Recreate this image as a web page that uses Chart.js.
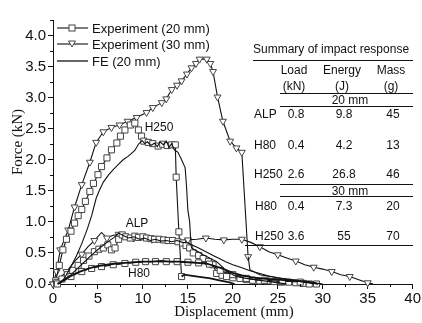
<!DOCTYPE html>
<html>
<head>
<meta charset="utf-8">
<script src="https://cdn.jsdelivr.net/npm/chart.js@4.4.1/dist/chart.umd.min.js"></script>
<style>
  html, body { margin: 0; padding: 0; background: #fff; }
  #wrap { position: relative; width: 422px; height: 323px; overflow: hidden; font-family: "Liberation Sans", Arial, sans-serif; color: #111; }
  #wrap canvas { position: absolute; left: 0; top: 0; }
  .t { position: absolute; font-size: 12px; line-height: 1; white-space: nowrap; }
  .c { transform: translate(-50%, -50%); }
  .l { transform: translate(0, -50%); }
  .rule { position: absolute; height: 0; border-top: 1px solid #111; }
  .leg { position: absolute; left: 57px; height: 14px; display: flex; align-items: center; font-size: 13px; white-space: nowrap; transform: translate(0, -50%); }
  .leg svg { margin-right: 4px; }
  .ttl { position: absolute; font-family: "Liberation Serif", "Times New Roman", serif; font-size: 15px; white-space: nowrap; line-height: 1; }
</style>
</head>
<body>
<div id="wrap">
  <canvas id="chart" width="422" height="323"></canvas>

  <div class="leg" style="top:28px"><svg width="31" height="12"><line x1="0" y1="6" x2="31" y2="6" stroke="#111" stroke-width="1.1"/><rect x="12" y="3" width="6" height="6" fill="#fff" stroke="#444"/></svg>Experiment (20 mm)</div>
  <div class="leg" style="top:44px"><svg width="31" height="12"><line x1="0" y1="6" x2="31" y2="6" stroke="#111" stroke-width="1.1"/><polygon points="11.5,3 18.5,3 15,9" fill="#fff" stroke="#444"/></svg>Experiment (30 mm)</div>
  <div class="leg" style="top:61px"><svg width="31" height="12"><line x1="0" y1="6" x2="31" y2="6" stroke="#111" stroke-width="1.3"/></svg>FE (20 mm)</div>

  <div class="ttl" style="left:17px;top:142px;transform:translate(-50%,-50%) rotate(-90deg)">Force (kN)</div>
  <div class="ttl c" style="left:234px;top:311px">Displacement (mm)</div>

  <div class="t c" style="left:159px;top:127px">H250</div>
  <div class="t c" style="left:137px;top:223px">ALP</div>
  <div class="t c" style="left:139px;top:273px">H80</div>

  <div id="table"></div>
</div>

<script>
// table contents
const tableTitle = 'Summary of impact response';
const tableHeads = [['Load', '(kN)'], ['Energy', '(J)'], ['Mass', '(g)']];
const group20 = '20 mm';
const rows20 = [['ALP', '0.8', '9.8', '45'], ['H80', '0.4', '4.2', '13'], ['H250', '2.6', '26.8', '46']];
const group30 = '30 mm';
const rows30 = [['H80', '0.4', '7.3', '20'], ['H250', '3.6', '55', '70']];

// axis ticks
const xTicks = [0, 5, 10, 15, 20, 25, 30, 35, 40];
const yTicks = [0, 0.5, 1, 1.5, 2, 2.5, 3, 3.5, 4];

// curves, [displacement mm, force kN]
const exp20H250 = [[0.3,0.05],[0.7,0.3],[1.1,0.55],[1.5,0.72],[2.0,0.85],[2.4,0.98],[2.8,1.1],[3.2,1.2],[3.6,1.33],[4.1,1.49],[4.5,1.62],[5.0,1.76],[5.4,1.89],[6.0,2.03],[6.5,2.16],[7.1,2.27],[7.5,2.38],[8.0,2.48],[8.6,2.56],[9.1,2.59],[9.5,2.48],[9.85,2.38],[10.1,2.3],[10.6,2.28],[11.1,2.26],[11.7,2.22],[12.2,2.25],[12.7,2.23],[13.2,2.24],[13.6,2.24],[13.7,1.72],[14.0,0.84],[14.3,0.12]];
const exp20H250Tail = [[14.3,0.12],[14.6,0.15],[15.5,0.13],[16.5,0.11],[17.5,0.09],[18.5,0.06],[19.5,0.03],[20.2,0]];
const exp20ALP = [[0.4,0.02],[1.0,0.08],[1.6,0.15],[2.2,0.22],[2.8,0.3],[3.4,0.38],[4.0,0.45],[4.6,0.52],[5.1,0.56],[5.6,0.58],[6.1,0.63],[6.5,0.55],[6.9,0.58],[7.3,0.72],[7.7,0.79],[8.1,0.76],[8.6,0.74],[9.1,0.77],[9.5,0.75],[10.0,0.76],[10.4,0.74],[10.9,0.73],[11.3,0.72],[11.8,0.72],[12.3,0.71],[12.8,0.7],[13.3,0.7],[13.9,0.68],[14.4,0.66],[14.8,0.62],[15.2,0.58],[15.6,0.5],[16.2,0.46],[16.7,0.41],[17.3,0.36],[17.8,0.31],[18.2,0.17],[18.8,0.14],[19.3,0.12],[20.0,0.1],[20.8,0.09],[21.5,0.07],[22.2,0.06],[23.0,0.05],[23.8,0.05],[24.6,0.04],[25.4,0.03],[26.2,0.03],[27.0,0.02],[27.8,0.01],[28.5,0]];
const exp20H80 = [[0.5,0],[1.3,0.06],[2.0,0.12],[2.6,0.17],[3.2,0.2],[3.7,0.23],[4.3,0.25],[4.8,0.27],[5.4,0.28],[6.0,0.29],[6.7,0.31],[7.4,0.32],[8.0,0.33],[8.6,0.34],[9.2,0.35],[9.7,0.35],[10.3,0.36],[10.8,0.36],[11.4,0.36],[12.0,0.36],[12.6,0.36],[13.2,0.36],[13.8,0.36],[14.4,0.35],[15.0,0.35],[15.6,0.35],[16.2,0.34],[16.8,0.34],[17.4,0.32],[18.0,0.27],[18.6,0.22],[19.3,0.18],[20.0,0.15],[20.8,0.12],[21.5,0.09],[22.5,0.07],[23.5,0.06],[24.5,0.05],[25.5,0.04],[26.5,0.04],[27.5,0.03],[28.5,0.02],[29.3,0]];
const exp30H250 = [[0,0],[0.4,0.2],[0.8,0.55],[1.7,0.87],[2.4,1.24],[3.2,1.6],[4.1,1.96],[4.8,2.28],[5.6,2.45],[6.5,2.52],[7.4,2.56],[8.3,2.62],[9.3,2.68],[10.4,2.76],[11.1,2.84],[12.1,2.92],[12.6,2.98],[13.2,3.13],[13.8,3.2],[14.3,3.27],[14.9,3.38],[15.4,3.48],[15.9,3.55],[16.3,3.62],[17.1,3.62],[17.5,3.55],[17.8,3.42],[18.3,3.01],[18.9,2.62],[19.7,2.3],[20.4,2.19],[21.0,2.12],[21.7,0.44]];
const exp30H250Tail = [[21.7,0.44],[21.9,0.23],[23.0,0.15],[25.0,0.1],[27.0,0.06],[29.0,0.02],[30.0,0]];
const exp30H80 = [[0,0],[0.6,0.08],[1.5,0.2],[2.5,0.38],[3.2,0.48],[3.9,0.6],[4.6,0.7],[5.4,0.83],[6.0,0.74],[6.6,0.78],[7.3,0.8],[8.0,0.76],[9.0,0.74],[10.0,0.73],[11.0,0.72],[12.0,0.72],[13.0,0.71],[14.0,0.7],[15.0,0.71],[16.0,0.72],[17.0,0.74],[18.0,0.72],[19.0,0.71],[20.0,0.72],[21.0,0.72],[22.0,0.67],[23.0,0.6],[24.0,0.52],[25.0,0.47],[26.0,0.42],[27.0,0.37],[28.0,0.31],[29.0,0.27],[30.0,0.24],[31.0,0.2],[32.0,0.15],[33.0,0.12],[34.0,0.07],[35.0,0.02],[35.6,0]];
const feH250 = [[0.7,0],[1.3,0.1],[2.0,0.28],[2.6,0.45],[3.2,0.65],[3.8,0.88],[4.3,1.1],[4.8,1.38],[5.2,1.52],[5.6,1.64],[6.2,1.76],[6.7,1.84],[7.3,1.93],[7.8,2.0],[8.3,2.05],[8.7,2.1],[9.1,2.15],[9.5,2.25],[9.9,2.31],[10.2,2.26],[10.5,2.29],[10.9,2.23],[11.3,2.27],[11.6,2.21],[11.9,2.29],[12.3,2.24],[12.6,2.3],[12.9,2.2],[13.2,2.26],[13.5,2.16],[13.9,2.12],[14.3,2.0],[14.7,1.87],[14.85,1.57],[15.0,1.19],[15.2,1.0],[15.3,0.75],[15.4,0.58],[16.0,0.53],[16.7,0.47],[17.4,0.42],[18.2,0.36],[18.8,0.28],[19.3,0.2],[20.4,0.12],[21.5,0.09],[22.5,0.07],[23.5,0.05],[24.5,0.03],[25.5,0.01],[26.0,0]];
const feALP = [[0.6,0],[1.2,0.06],[2.0,0.15],[2.8,0.26],[3.6,0.37],[4.4,0.48],[5.2,0.58],[6.0,0.67],[6.8,0.75],[7.3,0.82],[7.8,0.78],[8.4,0.74],[9.0,0.76],[9.6,0.72],[10.2,0.74],[10.8,0.7],[11.4,0.72],[12.0,0.69],[12.6,0.7],[13.2,0.68],[13.8,0.7],[14.4,0.67],[15.0,0.66],[15.6,0.62],[16.2,0.58],[17.0,0.52],[17.8,0.46],[18.5,0.41],[19.2,0.36],[20.0,0.31],[21.0,0.26],[22.0,0.21],[23.0,0.17],[24.0,0.13],[25.0,0.1],[26.0,0.07],[27.0,0.05],[28.0,0.03],[29.0,0.01],[29.5,0]];
const feH80 = [[0.5,0],[1.0,0.05],[2.0,0.13],[3.0,0.2],[4.0,0.25],[5.0,0.29],[6.0,0.31],[7.0,0.33],[8.0,0.34],[9.0,0.35],[10.0,0.36],[11.0,0.36],[12.0,0.37],[13.0,0.36],[14.0,0.36],[15.0,0.35],[16.0,0.34],[17.0,0.33],[18.0,0.29],[19.0,0.24],[20.0,0.18],[21.0,0.14],[22.0,0.11],[23.0,0.09],[24.0,0.08],[25.0,0.07],[26.0,0.06],[27.0,0.05],[28.0,0.04],[29.0,0.02],[29.5,0]];

function buildTable() {
  const el = document.getElementById('table');
  let html = '';
  const text = (s, x, y, cls) => { html += `<div class="t ${cls}" style="left:${x}px;top:${y}px">${s}</div>`; };
  const rule = (x1, x2, y, w) => { html += `<div class="rule" style="left:${x1}px;width:${x2 - x1}px;top:${y}px;border-top-width:${w || 1}px"></div>`; };
  const colX = [296, 344, 393];

  text(tableTitle, 253, 49, 'l');
  rule(253, 413, 60, 1.5);
  tableHeads.forEach((h, i) => { text(h[0], colX[i] - 2, 70, 'c'); text(h[1], colX[i] - 2, 86, 'c'); });
  rule(280, 413, 93);
  text(group20, 350, 99.5, 'c');
  rule(280, 413, 106);
  [114, 145, 174].forEach((y, r) => {
    text(rows20[r][0], 254, y, 'l');
    rows20[r].slice(1).forEach((v, i) => text(v, colX[i], y, 'c'));
  });
  rule(280, 413, 184);
  text(group30, 350, 191, 'c');
  rule(280, 413, 196);
  [206, 236].forEach((y, r) => {
    text(rows30[r][0], 255, y, 'l');
    rows30[r].slice(1).forEach((v, i) => text(v, colX[i], y, 'c'));
  });
  rule(245, 413, 245);
  el.innerHTML = html;
}

function series(data, marker, every, width) {
  return {
    data: data.map(p => ({ x: p[0], y: p[1] })),
    borderColor: '#111',
    borderWidth: width || 1.1,
    pointStyle: marker === 'tri' ? 'triangle' : 'rect',
    pointRotation: marker === 'tri' ? 180 : 0,
    pointRadius: ctx => (marker && ctx.index % every === 0) ? (marker === 'tri' ? 4 : 4.3) : 0,
    pointBackgroundColor: '#fff',
    pointBorderColor: '#444',
    pointBorderWidth: 1,
    tension: 0,
    clip: false
  };
}

// short minor ticks between the labelled ones
const minorTicks = {
  id: 'minorTicks',
  afterDraw(chart) {
    const { ctx, scales: { x, y }, chartArea } = chart;
    ctx.save();
    ctx.strokeStyle = '#111';
    ctx.lineWidth = 1;
    ctx.beginPath();
    for (let v = 2.5; v < 40; v += 5) {
      const px = Math.round(x.getPixelForValue(v)) + 0.5;
      ctx.moveTo(px, chartArea.bottom);
      ctx.lineTo(px, chartArea.bottom + 3);
    }
    for (let v = 0.25; v <= 4.25; v += 0.5) {
      const py = Math.round(y.getPixelForValue(v)) + 0.5;
      ctx.moveTo(chartArea.left - 3, py);
      ctx.lineTo(chartArea.left, py);
    }
    ctx.stroke();
    ctx.restore();
  }
};

const isOnGrid = (v, list) => list.some(t => Math.abs(t - v) < 1e-6);

buildTable();

new Chart(document.getElementById('chart'), {
  type: 'line',
  data: {
    datasets: [
      series(feH80, null, 1, 1.8),
      series(feALP, null, 1, 1.1),
      series(feH250, null, 1, 1.1),
      series(exp20H250Tail, null, 1, 1.8),
      series(exp30H250Tail, null, 1, 1.1),
      series(exp20H80, 'sq', 2),
      series(exp20ALP, 'sq', 1),
      series(exp30H80, 'tri', 2),
      series(exp20H250, 'sq', 1),
      series(exp30H250, 'tri', 1)
    ]
  },
  options: {
    responsive: false,
    animation: false,
    events: [],
    layout: { padding: { left: 0, right: 9, top: 20, bottom: 0 } },
    plugins: { legend: { display: false }, tooltip: { enabled: false } },
    scales: {
      x: {
        type: 'linear',
        min: 0,
        max: 40,
        afterFit: s => { s.height = 39; },
        afterBuildTicks: s => { s.ticks = xTicks.map(v => ({ value: v })); },
        border: { display: true, color: '#111', width: 1 },
        grid: { drawOnChartArea: false, drawTicks: true, tickLength: 5, tickColor: '#111' },
        ticks: { color: '#111', padding: 1, maxRotation: 0, font: { family: 'Liberation Sans', size: 15 } }
      },
      y: {
        type: 'linear',
        min: 0,
        max: 4.25,
        afterFit: s => { s.width = 53; },
        afterBuildTicks: s => { s.ticks = yTicks.map(v => ({ value: v })); },
        border: { display: true, color: '#111', width: 1 },
        grid: { drawOnChartArea: false, drawTicks: true, tickLength: 5, tickColor: '#111' },
        ticks: {
          color: '#111',
          padding: 2,
          font: { family: 'Liberation Sans', size: 15 },
          callback: v => isOnGrid(v, yTicks) ? v.toFixed(1) : ''
        }
      }
    }
  },
  plugins: [minorTicks]
});
</script>
</body>
</html>
